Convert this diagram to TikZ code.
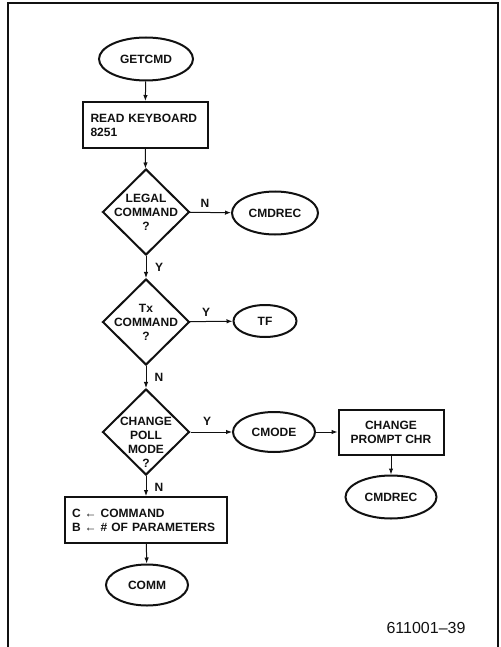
\documentclass[tikz,border=0pt]{standalone}
\usepackage{fontspec}
\setmainfont{Liberation Sans}
\usepackage{tikz}
\usetikzlibrary{shapes.geometric, arrows.meta, positioning}
\definecolor{flowink}{HTML}{111111}
\newcommand{\decbox}[5]{% name, x, y, text drop, text  (decision diamond)
  \node[decision] (#1) at (#2,#3) {};
  \node[dectext] (#1txt) at ([yshift=-#4pt]#1.center) {#5};
}

\begin{document}
\begin{tikzpicture}[x=1pt, y=-1pt,
    every node/.style={font=\fontsize{12}{14}\selectfont\bfseries, text=flowink},
    term/.style={draw=flowink, ellipse, line width=2pt, inner sep=0pt},
    procbox/.style={draw=flowink, rectangle, line width=2pt, inner ysep=0pt,
                    minimum height=46pt},
    decision/.style={draw=flowink, diamond, line width=2pt, inner sep=0pt,
                     minimum width=87pt, minimum height=86pt},
    dectext/.style={align=center, inner sep=0pt},
    flow/.style={draw=flowink, line width=1pt, -{Latex[length=6pt, width=4.5pt]}},
    branch/.style={inner sep=0pt}]
  \useasboundingbox (0,0) rectangle (500,647);

  % Frame
  \draw[flowink, line width=1.5pt] (8,647) -- (8,3) -- (498,3) -- (498,647);

  % Main column
  \node[term, minimum width=94pt, minimum height=43pt] (getcmd) at (146,59) {GETCMD};
  \node[procbox, inner xsep=8pt, text width=109pt, align=left] (readkb) at (145,125)
    {READ KEYBOARD\\8251};
  \decbox{legal}{146}{212}{0}{LEGAL\\COMMAND\\?}
  \decbox{txcmd}{146}{322}{0}{Tx\\COMMAND\\?}
  \decbox{pollmode}{146}{432}{10}{CHANGE\\POLL\\MODE\\?}
  \node[procbox, inner xsep=7pt, text width=148pt, align=left] (setcb) at (146,520)
    {C ← COMMAND\\B ← \# OF PARAMETERS};
  \node[term, minimum width=82pt, minimum height=41pt] (comm) at (147,585) {COMM};

  % Right branches
  \node[term, minimum width=86pt, minimum height=43pt] (cmdrec) at (275,213) {CMDREC};
  \node[term, minimum width=63pt, minimum height=32pt] (tf) at (265,321) {TF};
  \node[term, minimum width=82pt, minimum height=40pt] (cmode) at (274,432) {CMODE};
  \node[procbox, minimum width=105pt, minimum height=45pt, align=center] (prompt) at (391,432)
    {CHANGE\\PROMPT CHR};
  \node[term, minimum width=91pt, minimum height=43pt] (cmdrec2) at (391,497) {CMDREC};

  % Connectors
  \draw[flow] (getcmd) -- (readkb);
  \draw[flow] (readkb) -- (legal);
  \draw[flow] (legal) -- (txcmd);
  \draw[flow] (txcmd) -- (pollmode);
  \draw[flow] (pollmode) -- (setcb);
  \draw[flow] (setcb) -- (comm);
  \draw[flow] (legal) -- (cmdrec);
  \draw[flow] (txcmd) -- (tf);
  \draw[flow] (pollmode) -- (cmode);
  \draw[flow] (cmode) -- (prompt);
  \draw[flow] (prompt) -- (cmdrec2);

  % Branch labels
  \node[branch] (nlegal) at (205,203) {N};
  \node[branch] (ylegal) at (159,267) {Y};
  \node[branch] (ytx) at (206,312) {Y};
  \node[branch] (ntx) at (159,377) {N};
  \node[branch] (ypoll) at (207,421) {Y};
  \node[branch] (npoll) at (159,487) {N};

  % Figure number
  \node[font=\fontsize{16}{18}\selectfont] (fignum) at (426,628) {611001--39};
\end{tikzpicture}
\end{document}
